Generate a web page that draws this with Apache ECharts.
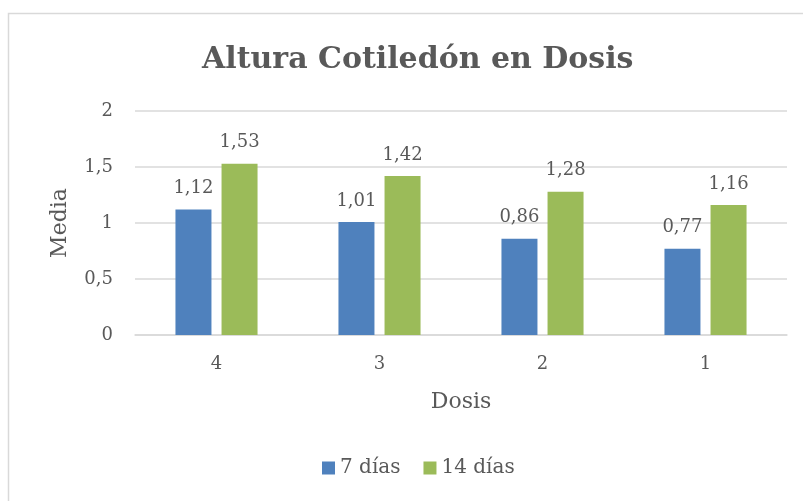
<!DOCTYPE html>
<html><head><meta charset="utf-8">
<script src="https://cdn.jsdelivr.net/npm/echarts@6/dist/echarts.min.js"></script>
<style>html,body{margin:0;padding:0;background:#fff}#c{width:803px;height:501px}</style>
</head><body><div id="c"></div>
<script>
var categories = ['4', '3', '2', '1'];
var seriesNames = ['7 días', '14 días'];
var values7 = [1.12, 1.01, 0.86, 0.77];
var values14 = [1.53, 1.42, 1.28, 1.16];
var yTicks = [0, 0.5, 1, 1.5, 2];

var FONT = 'DejaVu Serif';
var TXT = '#595959';
function fmt(v){ return String(v).replace('.', ','); }

var chart = echarts.init(document.getElementById('c'), null, {renderer:'canvas'});
var labelCfg = {show:true, position:'top', distance:12, color:TXT, fontFamily:FONT, fontSize:18,
  formatter:function(p){return fmt(p.value);}};
chart.setOption({
  animation:false,
  backgroundColor:'#fff',
  title:{text:'Altura Cotiledón en Dosis', left:197, top:40,
    textStyle:{fontFamily:FONT, fontWeight:'bold', fontSize:30, color:TXT}},
  legend:{bottom:18, left:317, itemWidth:13, itemHeight:13, itemGap:23,
    icon:'rect', textStyle:{fontFamily:FONT, fontSize:20, color:TXT},
    data:seriesNames},
  grid:{left:135, right:16, top:111, bottom:166},
  xAxis:{type:'category', data:categories, name:'Dosis', nameLocation:'middle', nameGap:56,
    nameTextStyle:{fontFamily:FONT, fontSize:22, color:TXT},
    axisLine:{lineStyle:{color:'#D9D9D9', width:1.5}}, axisTick:{show:false},
    axisLabel:{fontFamily:FONT, fontSize:18, color:TXT, margin:20}},
  yAxis:{type:'value', min:yTicks[0], max:yTicks[yTicks.length-1], interval:0.5,
    name:'Media', nameLocation:'middle', nameGap:64,
    nameTextStyle:{fontFamily:FONT, fontSize:22, color:TXT},
    axisLine:{show:false}, axisTick:{show:false},
    axisLabel:{fontFamily:FONT, fontSize:18, color:TXT, margin:22, formatter:function(v){return fmt(v);}},
    splitLine:{lineStyle:{color:'#D9D9D9', width:1.5}}},
  series:[
    {name:seriesNames[0], type:'bar', data:values7, barWidth:36, barGap:'28%',
     itemStyle:{color:'#4F81BD'}, label:labelCfg},
    {name:seriesNames[1], type:'bar', data:values14, barWidth:36,
     itemStyle:{color:'#9BBB59'}, label:labelCfg}
  ],
  graphic:[{type:'rect', shape:{x:8.5, y:13.5, width:900, height:600},
    style:{fill:'none', stroke:'#D9D9D9', lineWidth:1.5}, silent:true}]
});
</script></body></html>
